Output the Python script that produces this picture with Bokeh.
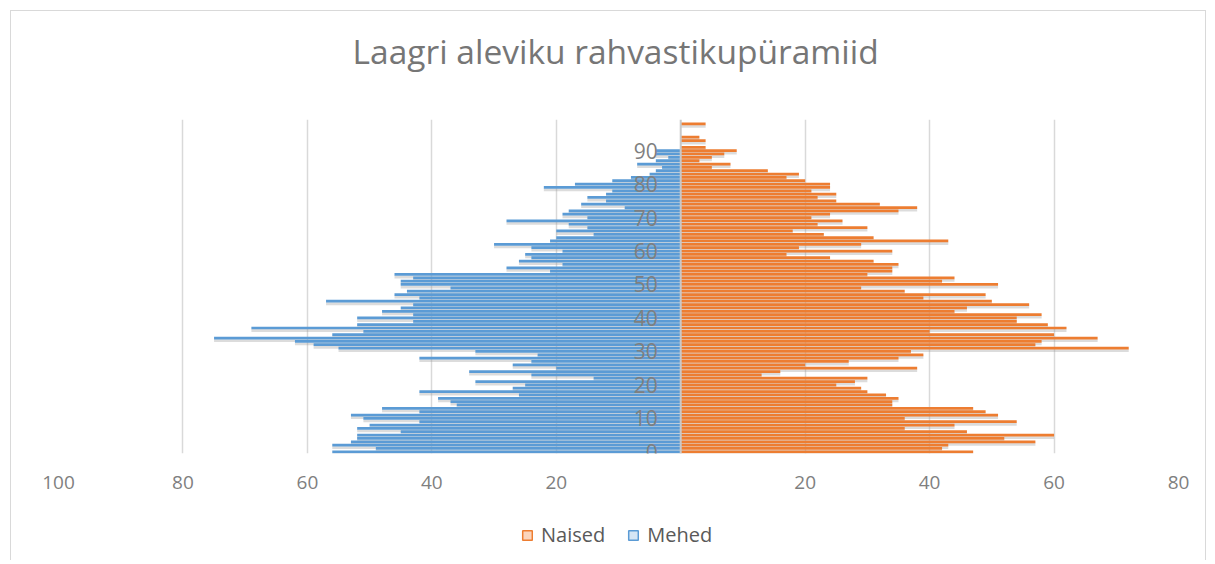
from bokeh.plotting import figure
from bokeh.layouts import column
from bokeh.models import ColumnDataSource, FixedTicker, Span, Legend, LegendItem, Range1d
from bokeh.core.properties import value
from bokeh.transform import dodge
from bokeh.embed import file_html
from bokeh.resources import INLINE

# ---- data (age 0 .. 98) ----
ages = list(range(99))
naised = [47, 42, 43, 57, 52, 60, 46, 36, 44, 54,
          36, 51, 49, 47, 34, 34, 35, 33, 30, 29,
          25, 28, 30, 13, 16, 38, 20, 27, 35, 39,
          37, 72, 57, 58, 67, 60, 40, 62, 59, 54,
          54, 58, 44, 46, 56, 50, 39, 49, 36, 29,
          51, 42, 44, 30, 34, 34, 35, 31, 24, 17,
          34, 19, 29, 43, 31, 23, 18, 30, 22, 26,
          21, 24, 35, 38, 32, 25, 22, 25, 21, 24,
          24, 20, 17, 19, 14, 5, 8, 3, 5, 7,
          9, 4, 0, 4, 3, 0, 0, 0, 4]
mehed = [56, 49, 56, 53, 52, 52, 45, 52, 50, 42,
         51, 53, 42, 48, 36, 37, 39, 26, 42, 27,
         25, 33, 14, 24, 34, 20, 27, 24, 42, 23,
         33, 55, 59, 62, 75, 56, 51, 69, 52, 43,
         52, 43, 48, 45, 43, 57, 42, 46, 44, 37,
         45, 45, 43, 46, 21, 28, 19, 26, 24, 25,
         19, 24, 30, 21, 20, 14, 20, 15, 18, 28,
         15, 19, 18, 9, 16, 12, 15, 12, 11, 22,
         17, 11, 8, 5, 4, 3, 7, 4, 2, 4,
         4, 0, 0, 0, 0, 0, 0, 0, 0]
x_ticks = [-100, -80, -60, -40, -20, 20, 40, 60, 80]
x_tick_labels = ["100", "80", "60", "40", "20", "20", "40", "60", "80"]
age_ticks = [0, 10, 20, 30, 40, 50, 60, 70, 80, 90]
age_tick_labels = ["0", "10", "20", "30", "40", "50", "60", "70", "80", "90"]
series_names = ["Naised", "Mehed"]
title_text = "Laagri aleviku rahvastikupüramiid"

BLUE = "#5b9bd5"
ORANGE = "#ed7d31"
GREY_TXT = "#7f7f7f"
FONT = "Open Sans"
W = 1194

# ---- title strip ----
pt = figure(width=W, height=108, x_range=Range1d(0, W), y_range=Range1d(0, 108),
            x_axis_type=None, y_axis_type=None, title=None,
            output_backend="svg", toolbar_location=None,
            min_border_left=0, min_border_right=0, min_border_top=0, min_border_bottom=0)
pt.outline_line_color = None
pt.text(x=[594], y=[69], text=[title_text], text_align="center",
        text_baseline="alphabetic", text_font=value(FONT),
        text_font_size="33.5px", text_color="#767676")

# ---- main pyramid ----
src = ColumnDataSource(dict(
    age=ages,
    naised=naised,
    mehed=[-m for m in mehed],
    zero=[0] * len(ages),
))

p = figure(width=W, height=391, title=None,
           x_range=Range1d(-100, 80), y_range=Range1d(-0.5, 99.3),
           output_backend="svg", toolbar_location=None,
           min_border_left=47, min_border_right=27,
           min_border_top=0, min_border_bottom=57)
p.outline_line_color = None

# shadows (drawn first)
p.hbar(y=dodge("age", -0.75, range=p.y_range), left="mehed", right="zero", height=0.85,
       source=src, fill_color="#9a9a9a", fill_alpha=0.35, line_color=None)
p.hbar(y=dodge("age", -0.75, range=p.y_range), left="zero", right="naised", height=0.85,
       source=src, fill_color="#9a9a9a", fill_alpha=0.35, line_color=None)

# bars
p.hbar(y="age", left="mehed", right="zero", height=0.82, source=src,
       fill_color=BLUE, line_color=None)
p.hbar(y="age", left="zero", right="naised", height=0.82, source=src,
       fill_color=ORANGE, line_color=None)

# center axis line
p.add_layout(Span(location=0, dimension="height", line_color="#c8c8c8", line_width=2))

# age labels next to the center axis
p.text(x=[0] * len(age_ticks), y=age_ticks, text=age_tick_labels,
       x_offset=-23, text_align="right", text_baseline="middle",
       text_font=value(FONT), text_font_size="21px", text_color=GREY_TXT)

# axes / grid
p.yaxis.visible = False
p.ygrid.visible = False
p.xaxis.ticker = FixedTicker(ticks=x_ticks)
p.xaxis.major_label_overrides = {t: l for t, l in zip(x_ticks, x_tick_labels)}
p.xaxis.axis_line_color = None
p.xaxis.major_tick_line_color = None
p.xaxis.minor_tick_line_color = None
p.xaxis.major_label_standoff = 16
p.xaxis.major_label_text_font = FONT
p.xaxis.major_label_text_font_size = "19px"
p.xaxis.major_label_text_color = GREY_TXT
p.xgrid.grid_line_color = "#d9d9d9"
p.xgrid.grid_line_width = 1.5

# ---- legend strip (separate figure below) ----
pl = figure(width=W, height=50, x_range=Range1d(0, 1), y_range=Range1d(0, 1),
            x_axis_type=None, y_axis_type=None, title=None,
            output_backend="svg", toolbar_location=None,
            min_border_left=0, min_border_right=0, min_border_top=0, min_border_bottom=0)
pl.outline_line_color = None
leg_n = pl.hbar(y=[0], left=[0], right=[0], height=0, fill_color="#fbd5bd",
                line_color=ORANGE, line_width=1.5)
leg_m = pl.hbar(y=[0], left=[0], right=[0], height=0, fill_color="#d6e6f5",
                line_color=BLUE, line_width=1.5)
legend = Legend(items=[LegendItem(label=series_names[0], renderers=[leg_n]),
                       LegendItem(label=series_names[1], renderers=[leg_m])],
                orientation="horizontal", location=(463, 12),
                glyph_width=12, glyph_height=12, label_standoff=8, spacing=22,
                label_text_font=FONT, label_text_font_size="20px",
                label_text_color="#595959",
                border_line_color=None, background_fill_alpha=0,
                margin=0, padding=4)
pl.add_layout(legend, "center")

layout = column(pt, p, pl, spacing=0, margin=(10, 0, 0, 10),
                styles={"border-left": "1px solid #d9d9d9",
                        "border-top": "1px solid #d9d9d9",
                        "border-right": "1px solid #d9d9d9"})

open("out.html", "w").write(file_html(layout, INLINE))
